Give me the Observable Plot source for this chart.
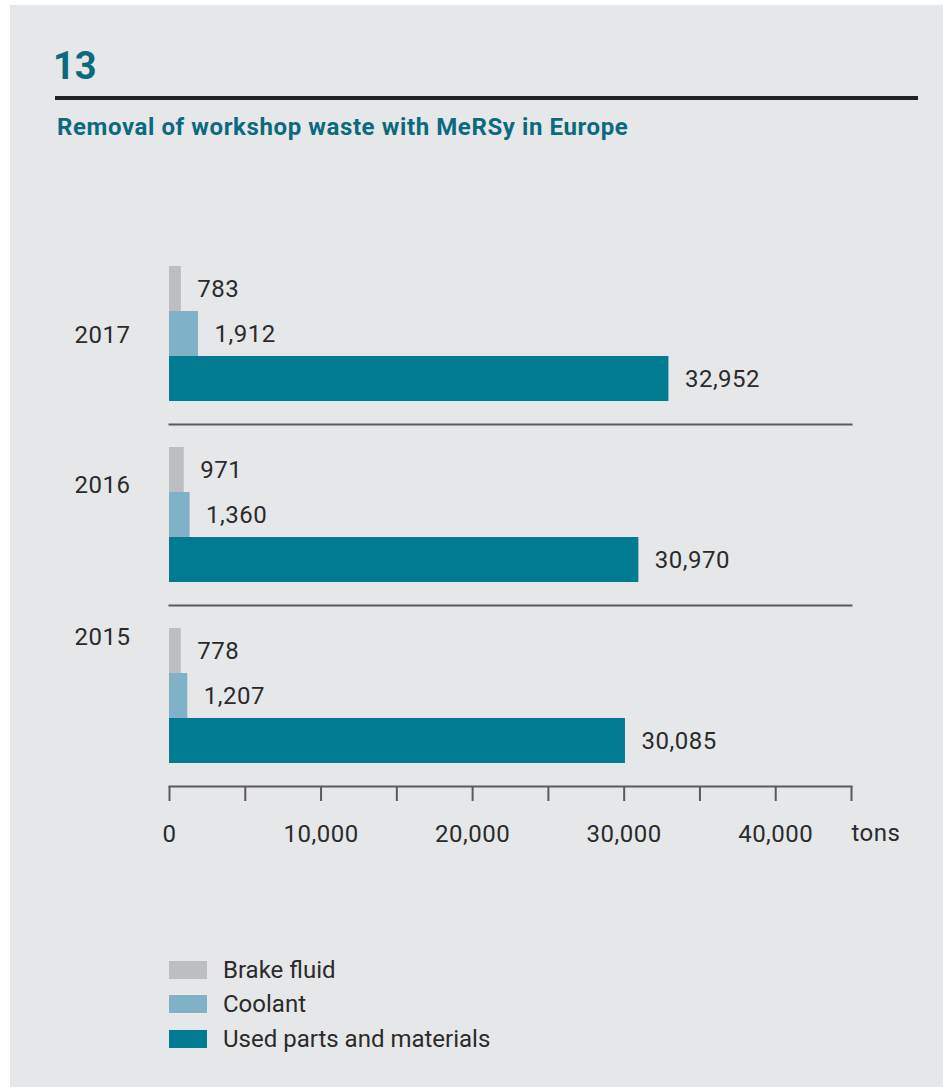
<!DOCTYPE html>
<html>
<head>
<meta charset="utf-8">
<script src="https://cdn.jsdelivr.net/npm/d3@7"></script>
<script src="https://cdn.jsdelivr.net/npm/@observablehq/plot@0.6"></script>
<style>
  html, body { margin: 0; padding: 0; background: #ffffff; }
  body { width: 943px; height: 1087px; position: relative; overflow: hidden; font-family: Roboto, "Noto Sans", sans-serif; }
  #panel { position: absolute; left: 10px; top: 5px; right: 0; bottom: 0; background: #e6e7e9; }
  #num { position: absolute; left: 53px; top: 47px; font-size: 38px; line-height: 38px; font-weight: 700; color: #0b6a7e; }
  #rule { position: absolute; left: 55px; width: 863px; top: 96px; height: 3.5px; background: #222; }
  #subtitle { position: absolute; left: 57px; top: 115px; font-size: 24px; line-height: 24px; letter-spacing: 0.6px; font-weight: 700; color: #0b6a7e; white-space: nowrap; }
  #chart { position: absolute; left: 0; top: 200px; }
  .leg { position: absolute; left: 169px; height: 18px; display: flex; align-items: center; }
  .sw { width: 38px; height: 18px; margin-right: 16px; }
  .lt { font-size: 24px; line-height: 18px; color: #2b2b2b; white-space: nowrap; }
</style>
</head>
<body>
<div id="panel"></div>
<div id="num">13</div>
<div id="rule"></div>
<div id="subtitle">Removal of workshop waste with MeRSy in Europe</div>
<div id="chart"></div>
<div id="legend"></div>
<script>
// ---- data ----
const years = [2017, 2016, 2015];
const series = ["Brake fluid", "Coolant", "Used parts and materials"];
const brakeFluid = [783, 971, 778];
const coolant = [1912, 1360, 1207];
const usedParts = [32952, 30970, 30085];
const seriesColors = ["#bdbec1", "#7fb2c6", "#007b91"];
const xTicks = [0, 5000, 10000, 15000, 20000, 25000, 30000, 35000, 40000, 45000];
const xTickLabels = ["0", "", "10,000", "", "20,000", "", "30,000", "", "40,000", ""];
const unitLabel = "tons";

// ---- layout (styling only) ----
const yearLabelDy = [70, 39, 9.5];

const seriesValues = [brakeFluid, coolant, usedParts];
const rows = [];
years.forEach((yr, i) => {
  series.forEach((s, j) => rows.push({year: yr, series: s, value: seriesValues[j][i]}));
});
const fmt = d3.format(",");
const textColor = "#2b2b2b";
const lineColor = "#5a5a5a";

const chart = Plot.plot({
  width: 943,
  height: 680,
  marginLeft: 169,
  marginRight: 92,
  marginTop: 65,
  marginBottom: 116,
  style: {fontFamily: "Roboto, 'Noto Sans', sans-serif", fontSize: "24px", letterSpacing: "0.5px", background: "transparent", color: textColor, overflow: "visible"},
  x: {domain: [0, 45000], axis: null},
  y: {domain: series, padding: 0, axis: null},
  fy: {domain: years, paddingInner: 44 / 181, paddingOuter: 0, axis: null},
  color: {domain: series, range: seriesColors},
  marks: [
    Plot.frame({anchor: "bottom", dy: 22, stroke: lineColor, strokeWidth: 2}),
    Plot.barX(rows, {fy: "year", y: "series", x: "value", fill: "series"}),
    Plot.text(rows, {fy: "year", y: "series", x: "value", text: d => fmt(d.value), dx: 16, textAnchor: "start", fill: textColor, fontSize: 24}),
    ...years.map((yr, i) => Plot.text([yr], {fy: d => d, text: d => String(d), frameAnchor: "top-left", lineAnchor: "middle", dx: -39, dy: yearLabelDy[i], textAnchor: "end", fill: textColor, fontSize: 24})),
    Plot.axisX({ticks: xTicks, tickFormat: (d) => xTickLabels[xTicks.indexOf(d)], label: null, tickSize: 15, tickPadding: 23, dy: 22, stroke: lineColor, strokeWidth: 2, fill: textColor, fontSize: 24}),
    Plot.text([unitLabel], {fy: [years[years.length - 1]], text: d => d, frameAnchor: "bottom-right", lineAnchor: "middle", dx: 0, dy: 69, textAnchor: "start", fill: textColor, fontSize: 24})
  ]
});
document.getElementById("chart").appendChild(chart);

// ---- legend ----
const legend = document.getElementById("legend");
series.forEach((s, i) => {
  const row = document.createElement("div");
  row.className = "leg";
  row.style.top = (961 + i * 34.3) + "px";
  row.innerHTML = `<div class="sw" style="background:${seriesColors[i]}"></div><div class="lt">${s}</div>`;
  legend.appendChild(row);
});
</script>
</body>
</html>
